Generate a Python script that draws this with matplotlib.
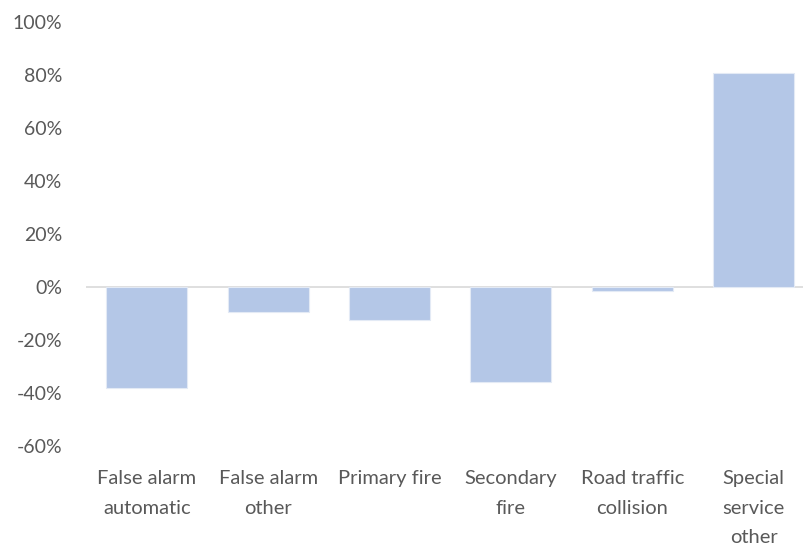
import matplotlib
matplotlib.use('Agg')
import matplotlib.pyplot as plt
from matplotlib.ticker import FuncFormatter

categories = ['False alarm\nautomatic', 'False alarm\nother', 'Primary fire',
              'Secondary\nfire', 'Road traffic\ncollision', 'Special\nservice\nother']
changes = [-38.0, -9.4, -12.3, -35.8, -1.5, 80.7]

plt.rcParams['font.family'] = ['Lato', 'DejaVu Sans']

fig = plt.figure(figsize=(8.04, 5.46), dpi=100)
ax = fig.add_axes([0.107, 0.183, 0.906, 0.777])

x = range(len(categories))
ax.bar(x, changes, width=0.667, color='#B4C7E7', edgecolor='#E3EAF5', linewidth=0.8, zorder=2)
ax.axhline(0, color='#D9D9D9', linewidth=1.2, zorder=1)

ax.set_xlim(-0.5, len(categories) - 0.5)
ax.set_ylim(-60, 100)
ax.set_yticks(range(-60, 101, 20))
ax.yaxis.set_major_formatter(FuncFormatter(lambda v, p: f'{v:.0f}%'))
ax.set_xticks(list(x))
ax.set_xticklabels(categories, fontsize=14.5, color='#595959', linespacing=1.92, va='top')
ax.tick_params(axis='y', labelsize=14, labelcolor='#595959', length=0, pad=17)
ax.tick_params(axis='x', length=0, pad=17)
for s in ax.spines.values():
    s.set_visible(False)

fig.savefig('out.png', dpi=100)
